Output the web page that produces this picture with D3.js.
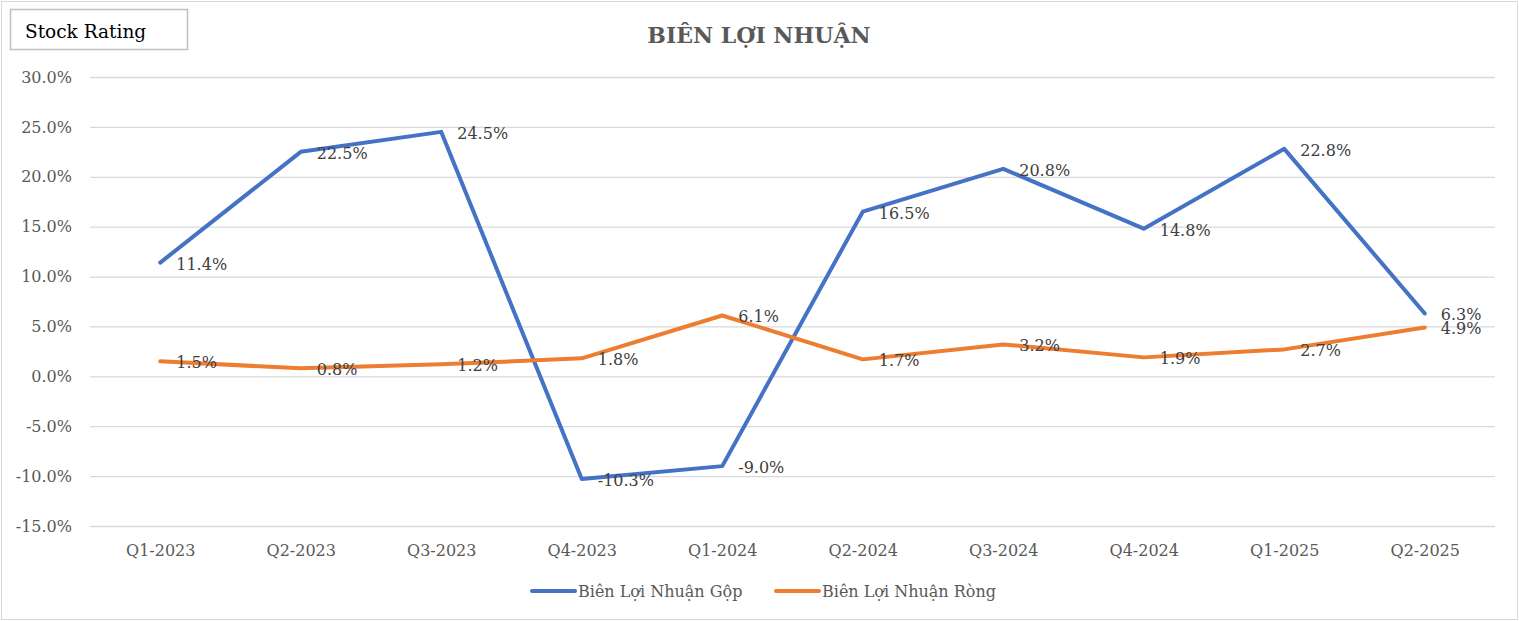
<!DOCTYPE html>
<html>
<head>
<meta charset="utf-8">
<script src="https://cdn.jsdelivr.net/npm/d3@7"></script>
<style>
  body { margin: 0; background: #fff; }
  svg { display: block; font-family: "DejaVu Serif", serif; }
</style>
</head>
<body>
<svg id="chart"></svg>
<script>
// data
const quarters = ["Q1-2023", "Q2-2023", "Q3-2023", "Q4-2023", "Q1-2024",
                  "Q2-2024", "Q3-2024", "Q4-2024", "Q1-2025", "Q2-2025"];
const grossMargin = [11.4, 22.5, 24.5, -10.3, -9.0, 16.5, 20.8, 14.8, 22.8, 6.3];
const netMargin = [1.5, 0.8, 1.2, 1.8, 6.1, 1.7, 3.2, 1.9, 2.7, 4.9];
const yTicks = [-15, -10, -5, 0, 5, 10, 15, 20, 25, 30];
const seriesNames = ["Biên Lợi Nhuận Gộp", "Biên Lợi Nhuận Ròng"];

const WIDTH = 1519, HEIGHT = 621;
const MARGINS = { left: 90, right: 24, top: 77, bottom: 95 };
const COLORS = ["#4472C4", "#ED7D31"];

const svg = d3.select('#chart')
  .attr('width', WIDTH)
  .attr('height', HEIGHT);

// outer frame
svg.append('rect')
  .attr('x', 1.5).attr('y', 1.5)
  .attr('width', WIDTH - 3).attr('height', HEIGHT - 3)
  .attr('fill', '#fff')
  .attr('stroke', '#d9d9d9');

// SCALES
const xScale = d3.scalePoint()
  .domain(quarters)
  .range([MARGINS.left, WIDTH - MARGINS.right])
  .padding(0.5);
const yScale = d3.scaleLinear()
  .domain([-15, 30])
  .range([HEIGHT - MARGINS.bottom, MARGINS.top]);

// GRIDLINES + Y AXIS
const yAxis = svg.append('g')
  .attr('transform', `translate(${MARGINS.left},0)`)
  .call(d3.axisLeft(yScale)
    .tickValues(yTicks)
    .tickSize(-(WIDTH - MARGINS.left - MARGINS.right))
    .tickFormat(d => d.toFixed(1) + '%'));
yAxis.select('.domain').remove();
yAxis.selectAll('line').attr('stroke', '#d9d9d9').attr('stroke-width', 1.3);
yAxis.selectAll('text')
  .attr('x', -18)
  .attr('fill', '#595959')
  .style('font-size', '16px')
  .style('font-family', '"DejaVu Serif", serif');

// X AXIS
const xAxis = svg.append('g')
  .attr('transform', `translate(0,${HEIGHT - MARGINS.bottom})`)
  .call(d3.axisBottom(xScale).tickSize(0).tickPadding(19));
xAxis.select('.domain').remove();
xAxis.selectAll('text')
  .attr('fill', '#595959')
  .style('font-size', '16px')
  .style('font-family', '"DejaVu Serif", serif');

// LINES
const line = d3.line()
  .x((d, i) => xScale(quarters[i]))
  .y(d => yScale(d));

[grossMargin, netMargin].forEach((values, s) => {
  svg.append('path')
    .datum(values)
    .attr('fill', 'none')
    .attr('stroke', COLORS[s])
    .attr('stroke-width', 4)
    .attr('stroke-linejoin', 'round')
    .attr('stroke-linecap', 'round')
    .attr('d', line);
});

// LABELS (right of each point, like the original)
[grossMargin, netMargin].forEach((values) => {
  svg.append('g').selectAll('text')
    .data(values)
    .enter()
    .append('text')
    .attr('x', (d, i) => xScale(quarters[i]) + 16)
    .attr('y', d => yScale(d) + 7)
    .attr('fill', '#404040')
    .style('font-size', '16px')
    .text(d => d.toFixed(1) + '%');
});

// TITLE
svg.append('text')
  .attr('x', 759).attr('y', 43)
  .attr('text-anchor', 'middle')
  .attr('fill', '#595959')
  .style('font-size', '22px')
  .style('font-weight', 'bold')
  .text('BIÊN LỢI NHUẬN');

// STOCK RATING BOX
svg.append('rect')
  .attr('x', 10.5).attr('y', 9.5)
  .attr('width', 177).attr('height', 40)
  .attr('fill', '#fff')
  .attr('stroke', '#bfbfbf')
  .attr('stroke-width', 1.5);
svg.append('text')
  .attr('x', 25).attr('y', 38)
  .attr('fill', '#000')
  .style('font-size', '18.5px')
  .text('Stock Rating');

// LEGEND
const legendX = [532, 776];
const legend = svg.append('g').selectAll('g')
  .data(seriesNames)
  .enter()
  .append('g')
  .attr('transform', (d, i) => `translate(${legendX[i]},591)`);
legend.append('line')
  .attr('x1', 0).attr('x2', 43)
  .attr('stroke', (d, i) => COLORS[i])
  .attr('stroke-width', 4)
  .attr('stroke-linecap', 'round');
legend.append('text')
  .attr('x', 46).attr('y', 6)
  .attr('fill', '#595959')
  .style('font-size', '16px')
  .text(d => d);
</script>
</body>
</html>
